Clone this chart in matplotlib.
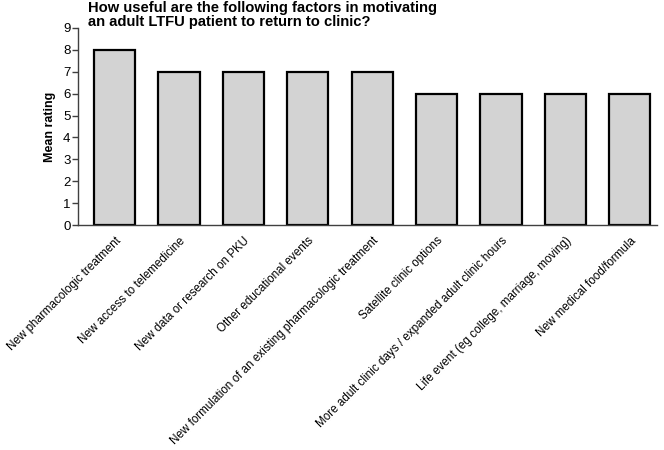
import matplotlib.pyplot as plt

plt.rcParams['font.family'] = ['Liberation Sans', 'DejaVu Sans']

# factors and their mean ratings
factors = [
    'New pharmacologic treatment',
    'New access to telemedicine',
    'New data or research on PKU',
    'Other educational events',
    'New formulation of an existing pharmacologic treatment',
    'Satellite clinic options',
    'More adult clinic days / expanded adult clinic hours',
    'Life event (eg college, marriage, moving)',
    'New medical food/formula',
]
mean_rating = [8, 7, 7, 7, 7, 6, 6, 6, 6]

fig = plt.figure(figsize=(6.64, 4.5), dpi=100)
ax = fig.add_axes([0.1175, 0.5, 0.8715, 0.4378])

x = range(len(factors))
ax.bar(x, mean_rating, width=0.64, color='#d3d3d3', edgecolor='black', linewidth=1.6)

ax.set_xlim(-0.57, len(factors) - 0.58)
ax.set_ylim(0, 9)
ax.set_yticks(range(10))
ax.set_xticks(list(x))
ax.set_xticklabels(factors, rotation=45, ha='right', rotation_mode='anchor', fontsize=8.4)
ax.tick_params(axis='x', length=0, pad=7)
ax.tick_params(axis='y', length=4, width=1, color='#404040', labelsize=9.5, pad=1.5)

for s in ['top', 'right']:
    ax.spines[s].set_visible(False)
for s in ['left', 'bottom']:
    ax.spines[s].set_color('#404040')
    ax.spines[s].set_linewidth(1)

ax.set_ylabel('Mean rating', fontsize=9, fontweight='bold', labelpad=5)
fig.text(0.1325, 0.998, 'How useful are the following factors in motivating\nan adult LTFU patient to return to clinic?',
         fontsize=10.6, fontweight='bold', ha='left', va='top', linespacing=1.0)

fig.savefig('out.png', dpi=100)
